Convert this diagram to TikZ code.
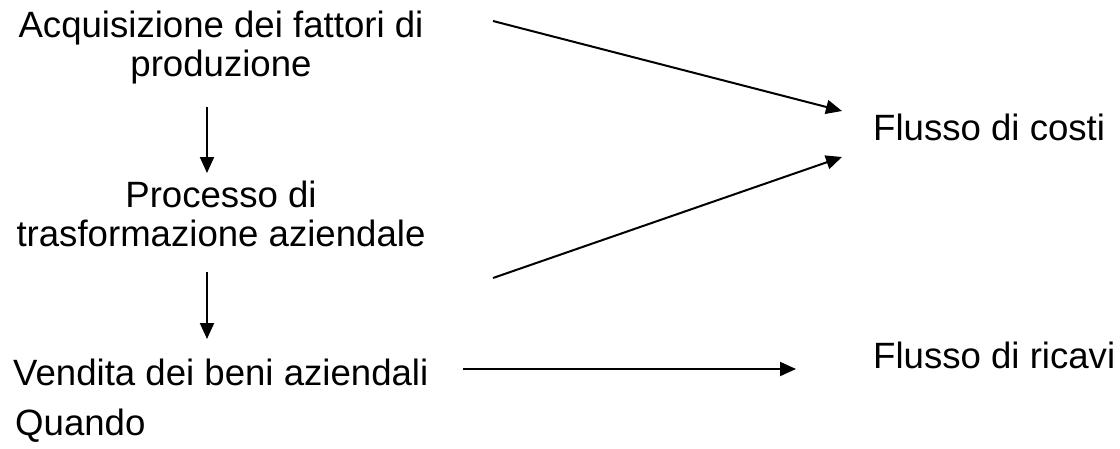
\documentclass[tikz,border=0pt]{standalone}
\usepackage{fontspec}
\setmainfont{Liberation Sans}
\usetikzlibrary{arrows.meta}
\begin{document}
\begin{tikzpicture}[x=1pt,y=-1pt,
  lbl/.style={font=\fontsize{36.6}{39}\selectfont, inner sep=0pt, align=center},
  arr/.style={line width=2pt, -{Triangle[length=16pt,width=14pt]}}]
\useasboundingbox (0,0) rectangle (1120,448);
\node[lbl, anchor=base] (acq) at (221,76) {Acquisizione dei fattori di\\produzione};
\node[lbl, anchor=base] (proc) at (221,246) {Processo di\\trasformazione aziendale};
\node[lbl, anchor=base west] (vend) at (13,385) {Vendita dei beni aziendali};
\node[lbl, anchor=base west] (quando) at (15,435) {Quando};
\node[lbl, anchor=base west] (costi) at (873,140) {Flusso di costi};
\node[lbl, anchor=base west] (ricavi) at (873,368) {Flusso di ricavi};
\coordinate (a1s) at (207,107);
\coordinate (a1e) at (207,173);
\coordinate (a2s) at (207,272);
\coordinate (a2e) at (207,339);
\coordinate (d1s) at (493,21);
\coordinate (d1e) at (842,111);
\coordinate (d2s) at (493,278);
\coordinate (d2e) at (842,157);
\coordinate (hs) at (463,369);
\coordinate (he) at (796,369);
\draw[arr] (a1s) -- (a1e);
\draw[arr] (a2s) -- (a2e);
\draw[arr] (d1s) -- (d1e);
\draw[arr] (d2s) -- (d2e);
\draw[arr] (hs) -- (he);
\end{tikzpicture}
\end{document}
